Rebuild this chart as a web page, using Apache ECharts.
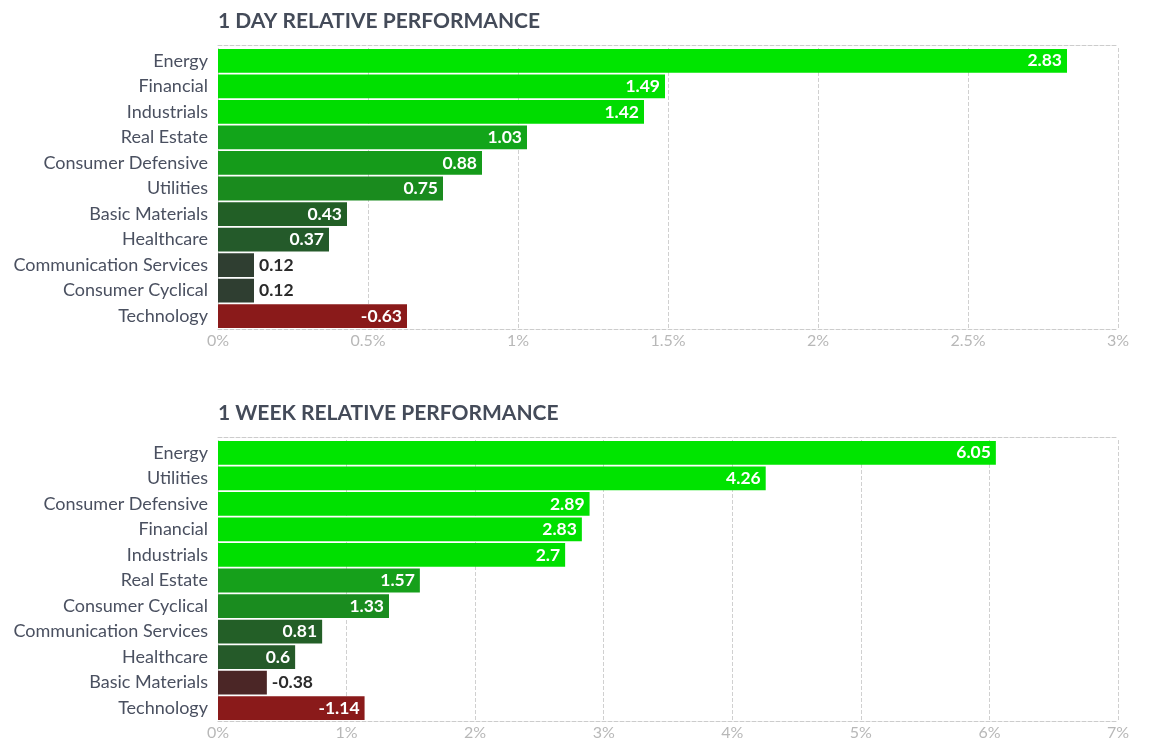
<!DOCTYPE html>
<html>
<head>
<meta charset="utf-8">
<script src="https://cdn.jsdelivr.net/npm/echarts@6/dist/echarts.min.js"></script>
<style>
html,body{margin:0;padding:0;background:#fff;}
#c{width:1156px;height:756px;}
</style>
</head>
<body>
<div id="c"></div>
<script>
// ---- data ----
var dayCategories = ['Energy','Financial','Industrials','Real Estate','Consumer Defensive','Utilities','Basic Materials','Healthcare','Communication Services','Consumer Cyclical','Technology'];
var dayValues = [2.83, 1.49, 1.42, 1.03, 0.88, 0.75, 0.43, 0.37, 0.12, 0.12, -0.63];
var dayColors = ['#00e500','#00e000','#00dc00','#12a51a','#159b1a','#1a8b1e','#225f26','#245a2a','#2f3e31','#2f3e31','#8a1a1a'];
var dayTicks = ['0%','0.5%','1%','1.5%','2%','2.5%','3%'];

var weekCategories = ['Energy','Utilities','Consumer Defensive','Financial','Industrials','Real Estate','Consumer Cyclical','Communication Services','Healthcare','Basic Materials','Technology'];
var weekValues = [6.05, 4.26, 2.89, 2.83, 2.7, 1.57, 1.33, 0.81, 0.6, -0.38, -1.14];
var weekColors = ['#00e500','#00e300','#00e100','#00e000','#00df00','#16a01b','#1a8c1f','#235f27','#255a29','#4b2626','#8a1a1a'];
var weekTicks = ['0%','1%','2%','3%','4%','5%','6%','7%'];

var FONT = 'Lato, "Noto Sans", sans-serif';
var GRID_W = 900;

function buildData(values, colors, max) {
  return values.map(function (v, i) {
    var abs = Math.abs(v);
    var outside = abs / max * GRID_W < 60;
    return {
      value: abs,
      raw: v,
      itemStyle: { color: colors[i] },
      label: outside ? { position: 'right', color: '#2b2b2b', distance: 5 } :
                       { position: 'insideRight', color: '#ffffff', distance: 5 }
    };
  });
}

function xAxisFor(gridIndex, max, interval, ticks) {
  return {
    type: 'value', gridIndex: gridIndex, min: 0, max: max, interval: interval,
    axisLine: { show: true, lineStyle: { color: '#cccccc', type: 'dashed', width: 1 } },
    axisTick: { show: false },
    splitLine: { show: true, lineStyle: { color: '#d0d0d0', type: 'dashed', width: 1 } },
    axisLabel: {
      color: '#b8b8b8', fontFamily: FONT, fontSize: 16, margin: 4,
      formatter: function (v) { return ticks[Math.round(v / interval)]; }
    }
  };
}
function topAxisFor(gridIndex, max) {
  return {
    type: 'value', gridIndex: gridIndex, position: 'top', min: 0, max: max, offset: 3,
    axisLine: { show: true, lineStyle: { color: '#cccccc', type: 'dashed', width: 1 } },
    axisTick: { show: false }, axisLabel: { show: false }, splitLine: { show: false }
  };
}
function yAxisFor(gridIndex, cats) {
  return {
    type: 'category', gridIndex: gridIndex, data: cats, inverse: true,
    axisLine: { show: false }, axisTick: { show: false },
    axisLabel: { color: '#4a5060', fontFamily: FONT, fontSize: 18, margin: 10 }
  };
}
function seriesFor(idx, values, colors, max) {
  return {
    type: 'bar', xAxisIndex: idx * 2, yAxisIndex: idx,
    data: buildData(values, colors, max),
    barCategoryGap: '7%',
    animation: false,
    label: {
      show: true, fontFamily: FONT, fontSize: 17.5, fontWeight: 'bold',
      formatter: function (p) { return String(p.data.raw); }
    }
  };
}

var chart = echarts.init(document.getElementById('c'));
chart.setOption({
  backgroundColor: '#ffffff',
  title: [
    { text: '1 DAY RELATIVE PERFORMANCE', left: 218, top: 11, padding: 0,
      textStyle: { fontFamily: FONT, fontSize: 21, fontWeight: 'bold', color: '#444b59' } },
    { text: '1 WEEK RELATIVE PERFORMANCE', left: 218, top: 403, padding: 0,
      textStyle: { fontFamily: FONT, fontSize: 21, fontWeight: 'bold', color: '#444b59' } }
  ],
  grid: [
    { left: 218, width: GRID_W, top: 48, height: 281, containLabel: false },
    { left: 218, width: GRID_W, top: 440, height: 281, containLabel: false }
  ],
  xAxis: [
    xAxisFor(0, 3, 0.5, dayTicks), topAxisFor(0, 3),
    xAxisFor(1, 7, 1, weekTicks), topAxisFor(1, 7)
  ],
  yAxis: [ yAxisFor(0, dayCategories), yAxisFor(1, weekCategories) ],
  series: [
    seriesFor(0, dayValues, dayColors, 3),
    Object.assign(seriesFor(1, weekValues, weekColors, 7), { xAxisIndex: 2, yAxisIndex: 1 })
  ]
});
</script>
</body>
</html>
